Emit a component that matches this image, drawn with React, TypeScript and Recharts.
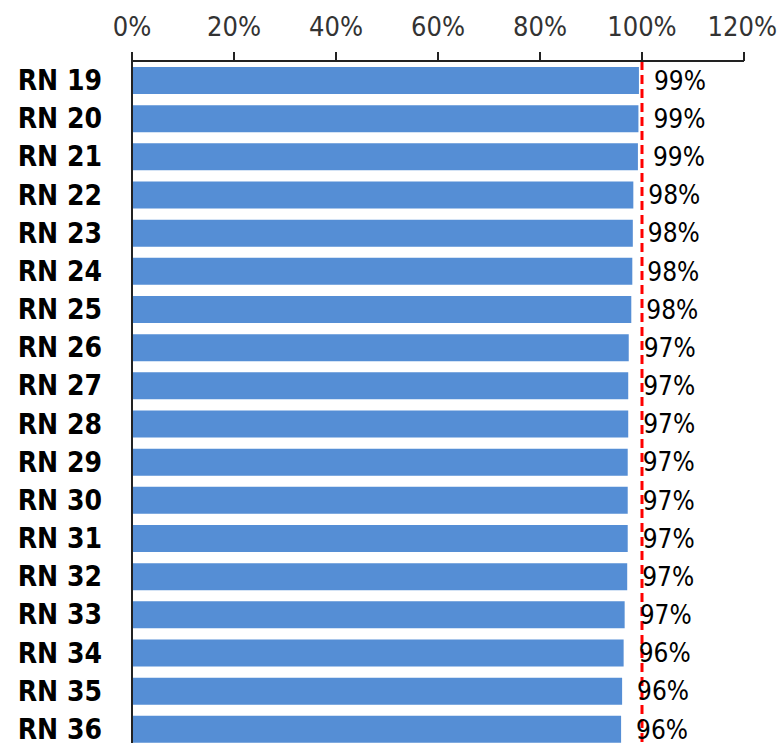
import React from "react";
import {
  BarChart,
  Bar,
  XAxis,
  YAxis,
  ReferenceLine,
  LabelList,
} from "recharts";

const categories = [
  "RN 19", "RN 20", "RN 21", "RN 22", "RN 23", "RN 24", "RN 25", "RN 26", "RN 27",
  "RN 28", "RN 29", "RN 30", "RN 31", "RN 32", "RN 33", "RN 34", "RN 35", "RN 36",
];
const values = [
  0.994, 0.993, 0.992, 0.983, 0.982, 0.981, 0.979, 0.974, 0.973,
  0.973, 0.972, 0.972, 0.972, 0.971, 0.966, 0.964, 0.961, 0.959,
];
const xTicks = [0, 0.2, 0.4, 0.6, 0.8, 1.0, 1.2];
const target = 1.0;

const data = categories.map((name, i) => ({ name, value: values[i] }));

const FONT = "'Liberation Sans Narrow', 'DejaVu Sans Condensed', 'Open Sans', sans-serif";

const pct = (v: number) => `${Math.round(v * 100)}%`;

export default function App() {
  return (
    <div style={{ position: "absolute", left: 0, top: 0, width: 777, height: 743, overflow: "hidden", background: "#fff" }}>
      <BarChart
        width={777}
        height={760}
        data={data}
        layout="vertical"
        margin={{ top: 0, right: 33, bottom: 12, left: 0 }}
      >
        <XAxis
          type="number"
          orientation="top"
          domain={[0, 1.2]}
          ticks={xTicks}
          tickFormatter={pct}
          height={61}
          axisLine={{ stroke: "#222", strokeWidth: 2 }}
          tickLine={{ stroke: "#222", strokeWidth: 2 }}
          tickSize={9}
          tickMargin={16}
          tick={{ fill: "#333", fontSize: 27, fontFamily: FONT }}
        />
        <YAxis
          type="category"
          dataKey="name"
          width={132}
          axisLine={{ stroke: "#222", strokeWidth: 2 }}
          tickLine={false}
          tickSize={0}
          tickMargin={30}
          tick={{ fill: "#000", fontSize: 28, fontWeight: "bold", fontFamily: FONT }}
          interval={0}
        />
        <Bar dataKey="value" fill="#558ed5" barSize={27} isAnimationActive={false}>
          <LabelList
            dataKey="value"
            position="right"
            offset={15}
            formatter={(v: number) => pct(v)}
            style={{ fill: "#000", fontSize: 26, fontFamily: FONT }}
          />
        </Bar>
        <ReferenceLine
          x={target}
          stroke="#ff0000"
          strokeWidth={3}
          strokeDasharray="9 5"
          ifOverflow="extendDomain"
        />
      </BarChart>
    </div>
  );
}
